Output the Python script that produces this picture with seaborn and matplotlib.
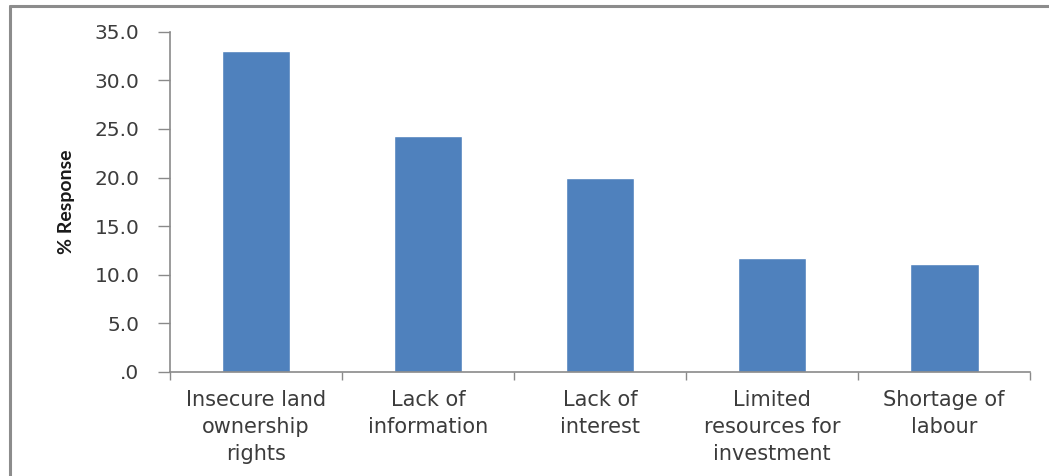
import matplotlib
matplotlib.use("Agg")
import matplotlib.pyplot as plt
from matplotlib.ticker import FixedLocator
from matplotlib.lines import Line2D
import seaborn as sns

# Reasons given for not adopting the practice (% of respondents)
categories = [
    "Insecure land\nownership\nrights",
    "Lack of\ninformation",
    "Lack of\ninterest",
    "Limited\nresources for\ninvestment",
    "Shortage of\nlabour",
]
responses = [33.0, 24.3, 20.0, 11.7, 11.1]
y_ticks = [0, 5, 10, 15, 20, 25, 30, 35]
y_tick_labels = [".0", "5.0", "10.0", "15.0", "20.0", "25.0", "30.0", "35.0"]

sns.set_theme(style="white")
plt.rcParams["font.family"] = ["DejaVu Sans"]

bar_color = "#4F81BD"
axis_color = "#8a8a8a"
text_color = "#3c3c3c"

fig = plt.figure(figsize=(10.49, 4.76), dpi=100)
ax = fig.add_axes([0.162, 0.219, 0.82, 0.714])

sns.barplot(x=categories, y=responses, color=bar_color, saturation=1,
            width=0.4, ax=ax)

ax.set_xlim(-0.5, len(categories) - 0.5)
ax.set_ylim(0, 35)
ax.set_yticks(y_ticks)
ax.set_yticklabels(y_tick_labels)

# category boundaries carry the tick marks, labels sit at the centres
ax.xaxis.set_minor_locator(FixedLocator([i - 0.5 for i in range(len(categories) + 1)]))
ax.tick_params(axis="x", which="major", length=0, pad=13,
               labelsize=15, labelcolor=text_color)
ax.tick_params(axis="x", which="minor", length=6, width=1, color=axis_color,
               direction="out", bottom=True)
ax.tick_params(axis="y", which="major", length=9, width=1, color=axis_color,
               direction="out", left=True, pad=13,
               labelsize=14.5, labelcolor=text_color)
for lbl in ax.get_xticklabels():
    lbl.set_linespacing(1.45)

for side in ("top", "right"):
    ax.spines[side].set_visible(False)
for side in ("left", "bottom"):
    ax.spines[side].set_color(axis_color)
    ax.spines[side].set_linewidth(1.2)

ax.set_xlabel("")
ax.set_ylabel("% Response", family=["Lato", "DejaVu Sans"], fontweight="bold",
              fontsize=14, color="#1a1a1a", labelpad=14)

# chart frame
fig.add_artist(Line2D([0.0095, 0.0095], [0.0, 0.987], transform=fig.transFigure,
                      color="#8c8c8c", linewidth=2.2))
fig.add_artist(Line2D([0.0095, 1.0], [0.987, 0.987], transform=fig.transFigure,
                      color="#8c8c8c", linewidth=2.2))

fig.savefig("out.png", dpi=100, facecolor="white")
